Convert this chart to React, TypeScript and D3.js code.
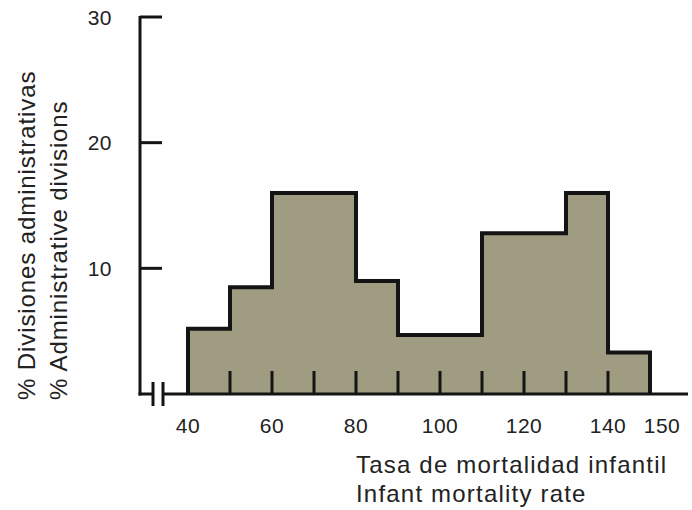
import React from "react";
import * as d3 from "d3";

const binStarts = [40, 50, 60, 70, 80, 90, 100, 110, 120, 130, 140];
const binWidth = 10;
const percentages = [5.2, 8.5, 16.0, 16.0, 9.0, 4.7, 4.7, 12.8, 12.8, 16.0, 3.3];
const xTickLabels = [40, 60, 80, 100, 120, 140, 150];
const innerTicks = [50, 60, 70, 80, 90, 100, 110, 120, 130, 140];
const yTickValues = [10, 20, 30];
const yTitleLines = ["% Divisiones administrativas", "% Administrative divisions"];
const xTitleLines = ["Tasa de mortalidad infantil", "Infant mortality rate"];

const W = 692;
const H = 510;
const FONT = "'Liberation Sans', Arial, Helvetica, sans-serif";
const INK = "#141414";
const FILL = "#a09c82";

export default function App() {
  const x = d3.scaleLinear().domain([40, 150]).range([188, 650]);
  const y = d3.scaleLinear().domain([0, 30]).range([394, 17]);
  const axisX = 140;

  const pts: [number, number][] = binStarts.map((b, i) => [b, percentages[i]]);
  const last = binStarts[binStarts.length - 1] + binWidth;
  const ptsEnd: [number, number][] = [...pts, [last, percentages[percentages.length - 1]]];

  const area = d3
    .area<[number, number]>()
    .x((d) => x(d[0]))
    .y0(y(0))
    .y1((d) => y(d[1]))
    .curve(d3.curveStepAfter);

  const outlinePts: [number, number][] = [[binStarts[0], 0], ...ptsEnd, [last, 0]];
  const line = d3
    .line<[number, number]>()
    .x((d) => x(d[0]))
    .y((d) => y(d[1]))
    .curve(d3.curveStepAfter);

  const base = y(0);

  return (
    <svg
      width={W}
      height={H}
      viewBox={`0 0 ${W} ${H}`}
      style={{ position: "absolute", left: 0, top: 0, background: "#fff" }}
    >
      <rect x={0} y={0} width={W} height={H} fill="#fefefe" />
      {/* histogram fill */}
      <path d={area(ptsEnd) || ""} fill={FILL} />
      {/* inner ticks */}
      {innerTicks.map((t) => (
        <line
          key={t}
          x1={x(t)}
          x2={x(t)}
          y1={base}
          y2={base - 23}
          stroke={INK}
          strokeWidth={3}
        />
      ))}
      {/* outline */}
      <path
        d={line(outlinePts) || ""}
        fill="none"
        stroke={INK}
        strokeWidth={4}
        strokeLinejoin="miter"
      />
      {/* y axis */}
      <line x1={axisX} x2={axisX} y1={y(30) - 1} y2={base + 1.5} stroke={INK} strokeWidth={3} />
      {yTickValues.map((v) => (
        <g key={v}>
          <line x1={axisX} x2={axisX + 22} y1={y(v)} y2={y(v)} stroke={INK} strokeWidth={3} />
          <text
            x={112}
            y={y(v)}
            dy="0.36em"
            textAnchor="end"
            fontFamily={FONT}
            fontSize={21}
            letterSpacing={0.5}
            fill="#222"
          >
            {v}
          </text>
        </g>
      ))}
      {/* baseline with break */}
      <line x1={axisX - 1.5} x2={153} y1={base} y2={base} stroke={INK} strokeWidth={3} />
      <line x1={163} x2={688} y1={base} y2={base} stroke={INK} strokeWidth={3} />
      <line x1={153} x2={153} y1={base - 12} y2={base + 12} stroke={INK} strokeWidth={3} />
      <line x1={163} x2={163} y1={base - 12} y2={base + 12} stroke={INK} strokeWidth={3} />
      {/* x tick labels */}
      {xTickLabels.map((t, i) => (
        <text
          key={t}
          x={x(t) + (i === xTickLabels.length - 1 ? 12 : 0)}
          y={433}
          textAnchor="middle"
          fontFamily={FONT}
          fontSize={21}
          letterSpacing={0.5}
          fill="#222"
        >
          {t}
        </text>
      ))}
      {/* x title */}
      {xTitleLines.map((s, i) => (
        <text
          key={s}
          x={356}
          y={473 + i * 29}
          fontFamily={FONT}
          fontSize={24}
          letterSpacing={1.2}
          fill="#222"
        >
          {s}
        </text>
      ))}
      {/* y title */}
      {yTitleLines.map((s, i) => (
        <text
          key={s}
          transform={`translate(${35 + i * 32},400) rotate(-90)`}
          fontFamily={FONT}
          fontSize={24}
          letterSpacing={0.9}
          fill="#222"
        >
          {s}
        </text>
      ))}
    </svg>
  );
}
